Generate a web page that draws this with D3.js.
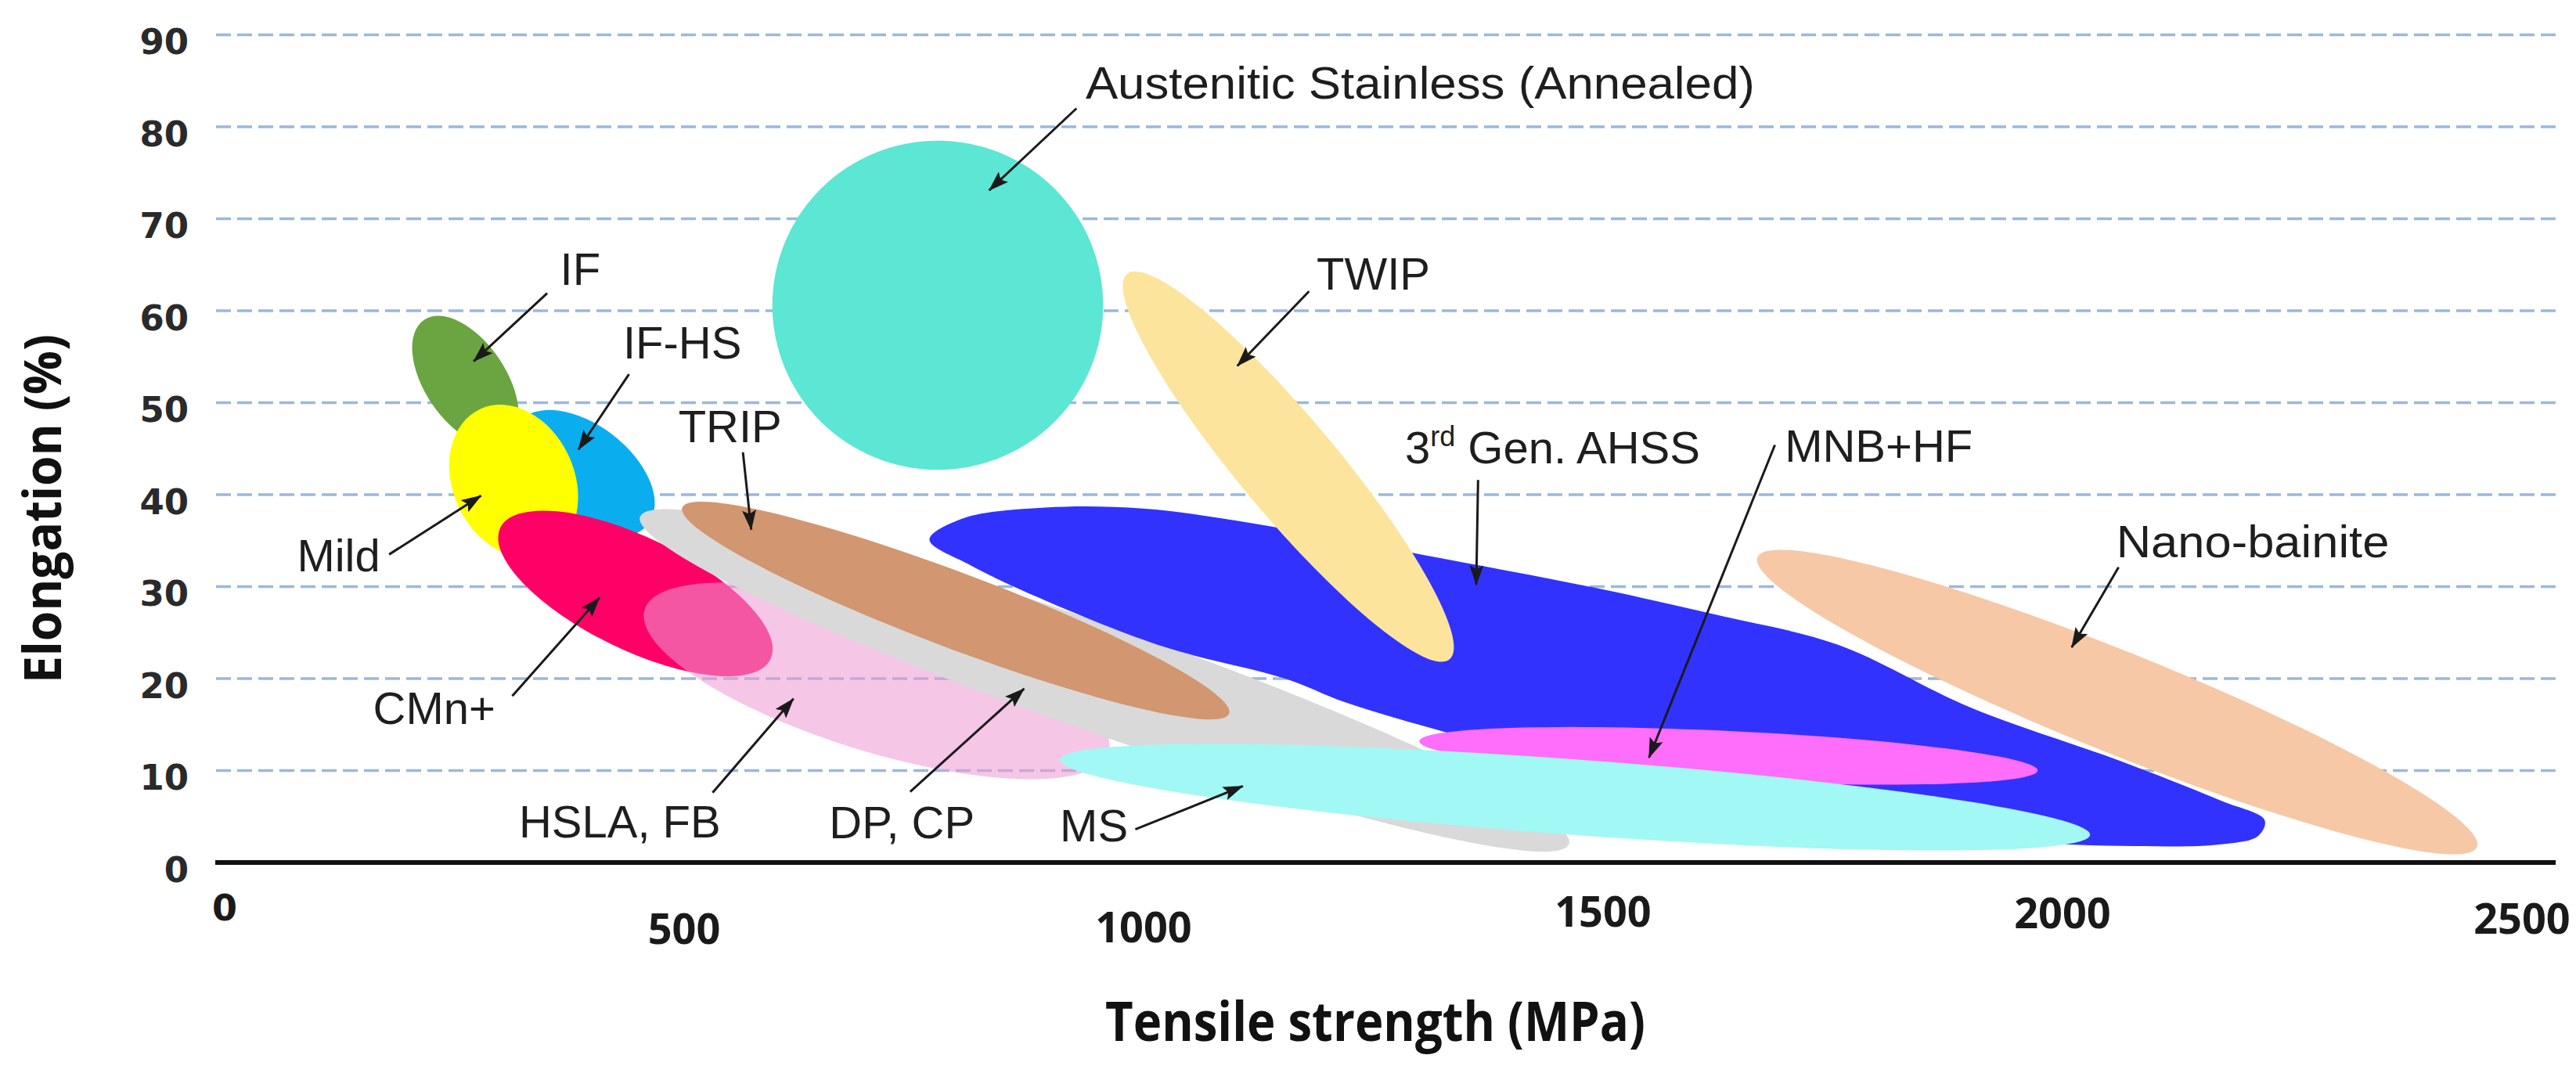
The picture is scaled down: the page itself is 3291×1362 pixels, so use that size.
<!DOCTYPE html>
<html>
<head>
<meta charset="utf-8">
<script src="https://cdn.jsdelivr.net/npm/d3@7"></script>
<style>
  html, body { margin: 0; padding: 0; background: #ffffff; }
  svg { display: block; }
</style>
</head>
<body>
<svg id="chart" width="3291" height="1362"></svg>
<script>
// ---------------- DATA ----------------
const yTickValues = [0, 10, 20, 30, 40, 50, 60, 70, 80, 90];
const xTickValues = [0, 500, 1000, 1500, 2000, 2500];

// Steel families drawn as ellipses: major axis from (startTS,startEl) to (endTS,endEl),
// half width of the ellipse expressed in elongation units (%)
const regionNames = ["IF", "IF-HS", "Mild", "CMn+", "HSLA, FB", "DP, CP",
                     "TRIP", "Austenitic Stainless (Annealed)", "TWIP", "MNB+HF", "MS", "Nano-bainite"];
const startTS = [217, 319, 278, 300, 457, 452, 498, 596, 982, 1300, 909, 1668];
const startEl = [59.0, 47.8, 49.3, 36.4, 27.5, 37.6, 38.6, 60.6, 64.0, 13.2, 11.2, 33.2];
const endTS   = [307, 461, 351, 594, 962, 1463, 1093, 956, 1333, 1973, 2030, 2451];
const endEl   = [45.7, 36.8, 33.6, 22.1, 12.0, 2.0, 16.2, 60.6, 22.1, 10.0, 3.0, 1.7];
const halfWidthEl = [4.4, 5.3, 6.6, 6.1, 7.7, 5.8, 4.1, 17.9, 5.3, 2.7, 4.1, 5.5];
const regionColors = ["#6aa541", "#0aaeef", "#ffff00", "#ff0066", "rgb(237,153,210)", "#d9d9d9",
                      "#d29670", "#5ce6d4", "#fce49c", "#ff6dfb", "#a2f8f4", "#f6c8a6"];
const regionOpacity = [1, 1, 1, 1, 0.56, 1, 1, 1, 1, 1, 1, 1];

// 3rd Gen. AHSS region outline (tensile strength MPa, elongation %)
const ahssTS = [767, 803, 893, 999, 1118, 1302, 1485, 1629, 1755, 1901, 2064, 2173, 2220, 2213,
                2175, 2064, 1885, 1629, 1349, 1220, 1154, 1024, 893, 812];
const ahssEl = [35.1, 37.4, 38.6, 38.5, 36.9, 33.5, 30.0, 26.8, 23.7, 16.8, 11.0, 6.7, 4.6, 2.9,
                2.0, 1.8, 2.7, 6.1, 13.6, 17.4, 20.0, 23.4, 28.5, 32.3];
const ahssColor = "#3232fe";

// Annotations (labels and arrows), in data coordinates
const labelText = ["IF", "IF-HS", "Mild", "CMn+", "TRIP", "HSLA, FB", "DP, CP", "MS",
                   "Austenitic Stainless (Annealed)", "TWIP", "3rd Gen. AHSS", "MNB+HF", "Nano-bainite"];
const labelTS = [387, 498, 124, 228, 550, 430, 737, 946, 1301, 1250, 1445, 1800, 2207];
const labelEl = [62.8, 54.8, 31.7, 15.1, 45.7, 2.7, 2.6, 2.3, 83.1, 62.3, 43.4, 43.6, 33.2];
const arrowFromTS = [351, 440, 179, 313, 564, 531, 746, 991, 927, 1180, 1364, 1687, 2061];
const arrowFromEl = [61.9, 53.1, 33.5, 18.1, 44.6, 7.6, 7.7, 3.6, 82.0, 62.1, 41.6, 45.4, 32.1];
const arrowToTS   = [271, 385, 279, 408, 573, 619, 870, 1108, 832, 1102, 1362, 1550, 2010];
const arrowToEl   = [54.5, 44.9, 39.9, 28.8, 36.2, 17.8, 18.9, 8.3, 73.1, 54.0, 30.2, 11.4, 23.4];

const xTitle = "Tensile strength (MPa)";
const yTitle = "Elongation (%)";

// ---------------- LAYOUT ----------------
const svg = d3.select("#chart");
const x = d3.scaleLinear().domain([0, 2500]).range([287, 3222]);
const y = d3.scaleLinear().domain([0, 90]).range([1102, 44.5]);
const plotLeft = 276, plotRight = 3267;
const xTickDy = {0: -10, 500: 15, 1000: 13, 1500: -7, 2000: -5, 2500: 2};
const labelStretch = {"Austenitic Stainless (Annealed)": 1.065, "Nano-bainite": 1.06};

svg.append("rect").attr("width", 3291).attr("height", 1362).attr("fill", "#ffffff");

// grid lines
svg.append("g").selectAll("line")
  .data(yTickValues.filter(v => v > 0))
  .join("line")
  .attr("x1", plotLeft).attr("x2", plotRight)
  .attr("y1", d => y(d)).attr("y2", d => y(d))
  .attr("stroke", "#9ab8dc").attr("stroke-width", 3.5)
  .attr("stroke-dasharray", "19 8");

// y tick labels
svg.append("g").selectAll("text")
  .data(yTickValues)
  .join("text")
  .attr("x", 241).attr("y", d => y(d) + 9)
  .attr("text-anchor", "end").attr("dominant-baseline", "central")
  .attr("font-family", "DejaVu Sans").attr("font-weight", "bold")
  .attr("font-size", 45).attr("fill", "#2a2a2a")
  .text(d => d);

// x tick labels
svg.append("g").selectAll("text")
  .data(xTickValues)
  .join("text")
  .attr("x", d => x(d)).attr("y", d => 1170 + xTickDy[d])
  .attr("text-anchor", "middle").attr("dominant-baseline", "central")
  .attr("font-family", d => d === 0 ? "DejaVu Sans" : "Open Sans")
  .attr("font-weight", "bold")
  .attr("font-size", d => d === 0 ? 46 : 54)
  .attr("fill", "#1a1a1a")
  .text(d => d);

// ellipse geometry helper
function ellipseGeom(i) {
  const x1 = x(startTS[i]), y1 = y(startEl[i]);
  const x2 = x(endTS[i]), y2 = y(endEl[i]);
  return {
    cx: (x1 + x2) / 2, cy: (y1 + y2) / 2,
    rx: Math.hypot(x2 - x1, y2 - y1) / 2,
    ry: y(0) - y(halfWidthEl[i]),
    ang: Math.atan2(y2 - y1, x2 - x1) * 180 / Math.PI
  };
}
function drawRegions(g, idx) {
  g.selectAll("ellipse")
    .data(idx)
    .join("ellipse")
    .each(function (i) {
      const e = ellipseGeom(i);
      d3.select(this)
        .attr("cx", e.cx).attr("cy", e.cy)
        .attr("rx", e.rx).attr("ry", e.ry)
        .attr("transform", `rotate(${e.ang} ${e.cx} ${e.cy})`)
        .attr("fill", regionColors[i])
        .attr("fill-opacity", regionOpacity[i]);
    });
}

const regions = svg.append("g");
drawRegions(regions.append("g"), [0, 1, 2, 3, 4, 5]);

// 3rd Gen AHSS blob
const ahssPts = ahssTS.map((t, i) => [t, ahssEl[i]]);
regions.append("path")
  .attr("d", d3.line().x(d => x(d[0])).y(d => y(d[1])).curve(d3.curveCatmullRomClosed.alpha(0.5))(ahssPts))
  .attr("fill", ahssColor);

drawRegions(regions.append("g"), [6, 7, 8, 9, 10, 11]);

// x axis line
svg.append("line")
  .attr("x1", plotLeft - 1).attr("x2", plotRight - 2)
  .attr("y1", y(0)).attr("y2", y(0))
  .attr("stroke", "#111").attr("stroke-width", 6);

// arrow marker
const defs = svg.append("defs");
defs.append("marker")
  .attr("id", "arrowhead")
  .attr("markerUnits", "userSpaceOnUse")
  .attr("viewBox", "0 0 26 18")
  .attr("markerWidth", 26).attr("markerHeight", 18)
  .attr("refX", 25).attr("refY", 9)
  .attr("orient", "auto")
  .append("path")
  .attr("d", "M0,0 L26,9 L0,18 L5,9 Z")
  .attr("fill", "#1a1a1a");

// arrows
svg.append("g").selectAll("line")
  .data(arrowFromTS.map((t, i) => i))
  .join("line")
  .attr("x1", i => x(arrowFromTS[i])).attr("y1", i => y(arrowFromEl[i]))
  .attr("x2", i => x(arrowToTS[i])).attr("y2", i => y(arrowToEl[i]))
  .attr("stroke", "#1a1a1a").attr("stroke-width", 3)
  .attr("marker-end", "url(#arrowhead)");

// labels
const lab = svg.append("g")
  .attr("font-family", "Liberation Sans, Arial, sans-serif")
  .attr("font-size", 58).attr("fill", "#1e1e1e");
labelText.forEach((t, i) => {
  const tx = lab.append("text")
    .attr("x", x(labelTS[i])).attr("y", y(labelEl[i]))
    .attr("text-anchor", "middle");
  const m = t.match(/^(\d)(rd)(.*)$/);
  if (m) {
    tx.append("tspan").text(m[1]);
    tx.append("tspan").attr("font-size", 36).attr("dy", -22).text(m[2]);
    tx.append("tspan").attr("dy", 22).text(m[3]);
  } else {
    tx.text(t);
    if (labelStretch[t]) {
      const w = tx.node().getComputedTextLength();
      tx.attr("textLength", w * labelStretch[t]).attr("lengthAdjust", "spacingAndGlyphs");
    }
  }
});

// axis titles
svg.append("text")
  .attr("x", 1757).attr("y", 1330)
  .attr("text-anchor", "middle")
  .attr("font-family", "Open Sans").attr("font-weight", "bold")
  .attr("font-size", 70).attr("fill", "#111")
  .attr("textLength", 690).attr("lengthAdjust", "spacingAndGlyphs")
  .text(xTitle);

svg.append("text")
  .attr("transform", "translate(78,650) rotate(-90)")
  .attr("text-anchor", "middle")
  .attr("font-family", "Open Sans").attr("font-weight", "bold")
  .attr("font-size", 67).attr("fill", "#111")
  .attr("textLength", 446).attr("lengthAdjust", "spacingAndGlyphs")
  .text(yTitle);
</script>
</body>
</html>
